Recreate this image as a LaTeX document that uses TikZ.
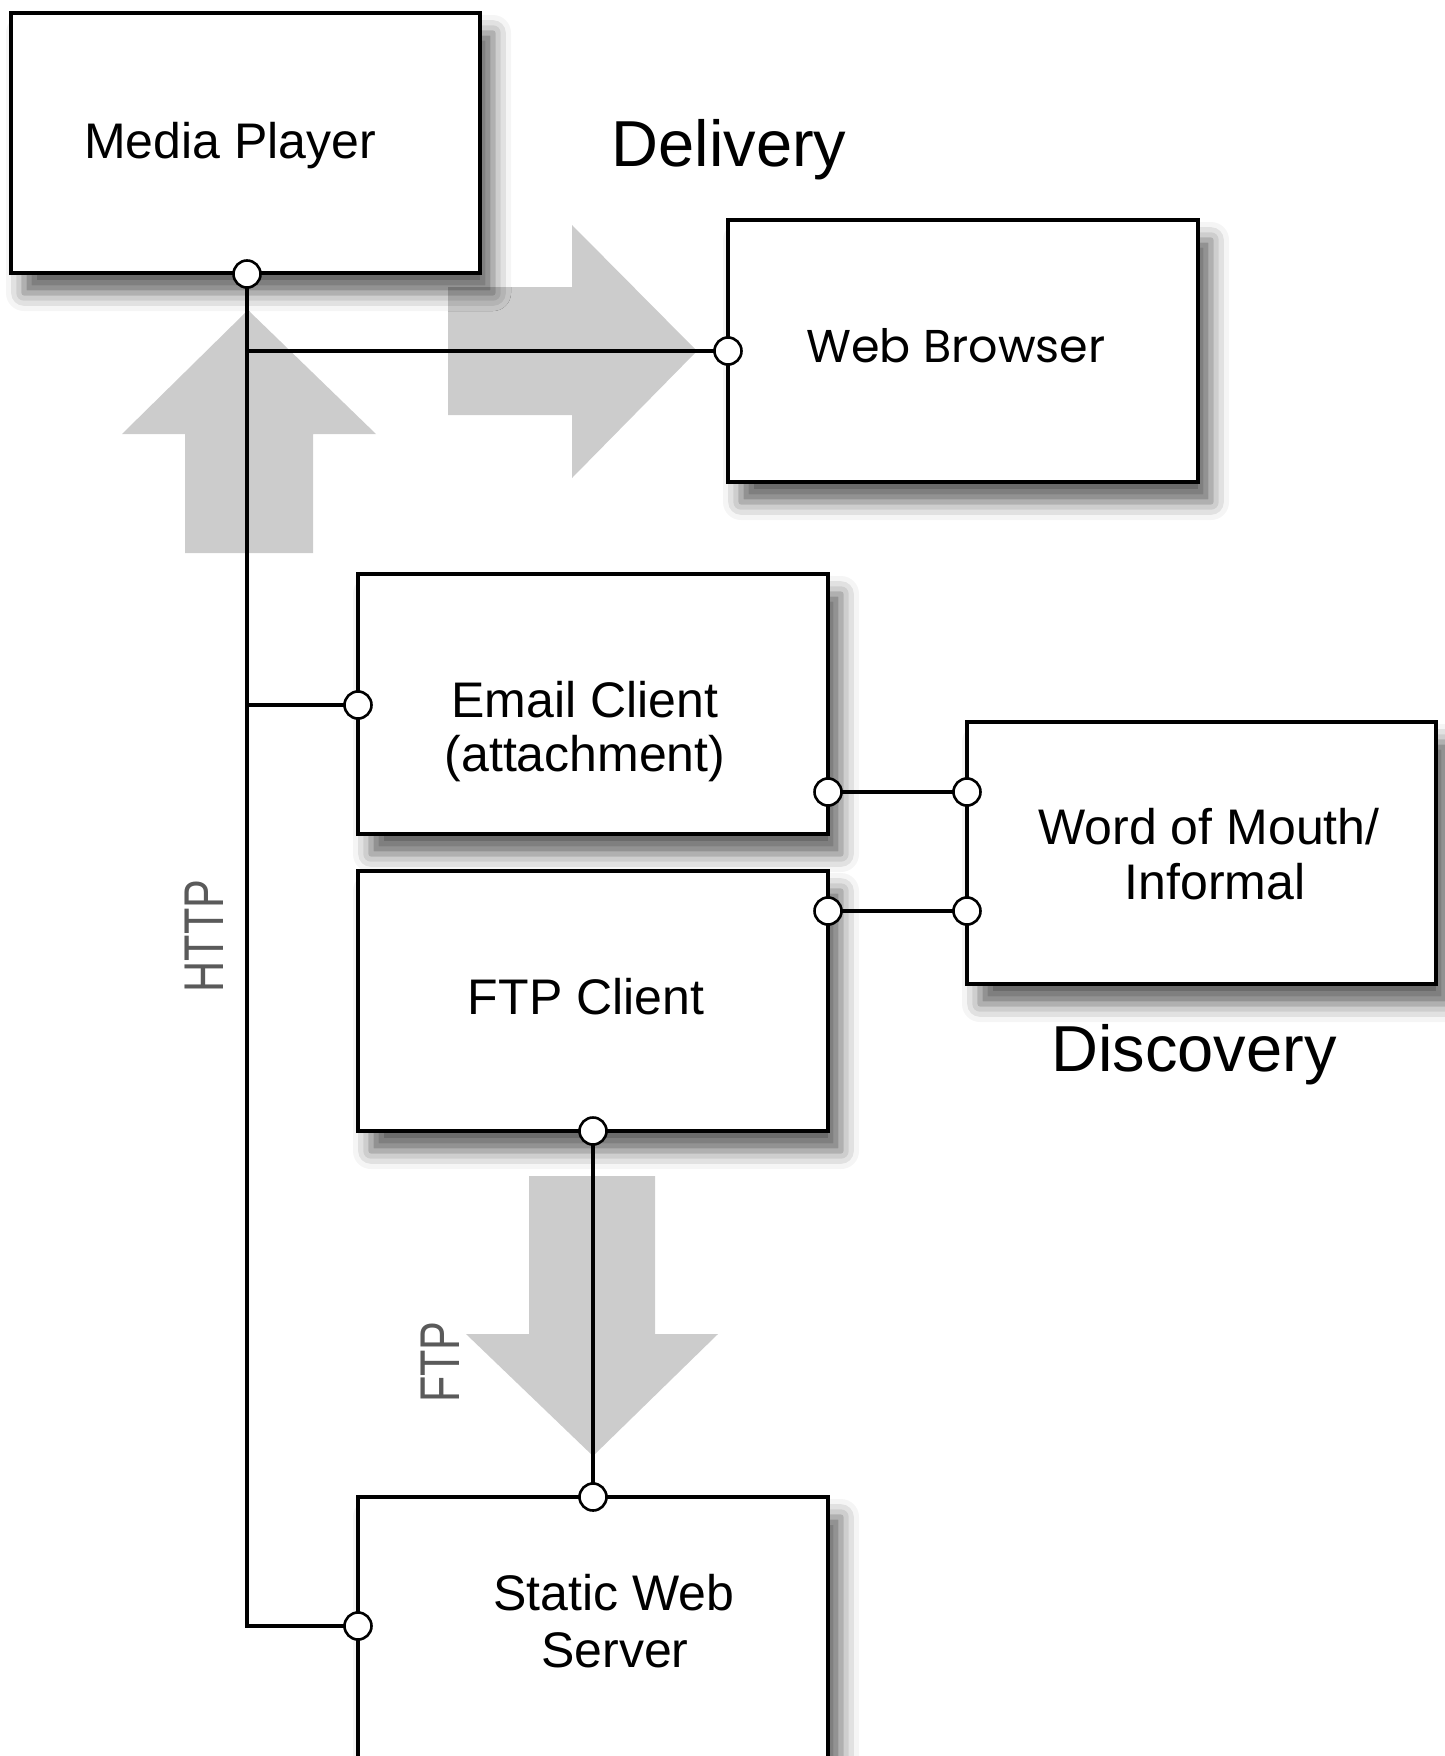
\documentclass[tikz,border=0pt]{standalone}
\usepackage{fontspec}
\setmainfont{Liberation Sans}
\newfontfamily\wbfont{Poppins}
\usetikzlibrary{shadows.blur}
\definecolor{arrowgray}{RGB}{204,204,204}
\definecolor{labelgray}{RGB}{90,90,90}
\tikzset{
  box/.style={draw=black, line width=3.5pt, fill=white, rectangle, inner sep=0pt,
    blur shadow={shadow xshift=13pt, shadow yshift=-20pt, shadow blur radius=18pt, shadow opacity=62}},
  port/.style={circle, draw=black, fill=white, line width=2.6pt, minimum size=27pt, inner sep=0pt},
  linkline/.style={line width=3.2pt},
  bigarrow/.style={fill=arrowgray, draw=none},
  lbl/.style={anchor=base, inner sep=0pt, font=\fontsize{50}{54}\selectfont},
  head/.style={anchor=base, inner sep=0pt, font=\fontsize{65}{70}\selectfont},
  proto/.style={inner sep=0pt, text=labelgray, rotate=90, font=\fontsize{56}{60}\selectfont}
}
\begin{document}
\begin{tikzpicture}[x=1pt, y=-1pt]
\path[use as bounding box] (0,0) rectangle (1445,1756);
\begin{scope}
\clip (0,0) rectangle (1445,1756);
% big grey arrows
\fill[bigarrow] (185,553) -- (185,434) -- (122,434) -- (248,310) -- (376,434) -- (313,434) -- (313,553) -- cycle;
\fill[bigarrow] (448,287) -- (572,287) -- (572,225) -- (697,351) -- (572,478) -- (572,415) -- (448,415) -- cycle;
\fill[bigarrow] (529,1176) -- (655,1176) -- (655,1334) -- (718,1334) -- (593,1456) -- (466,1334) -- (529,1334) -- cycle;
% boxes
\node[box, minimum width=469pt, minimum height=260pt] (mp) at (245.5,143) {};
\node[box, minimum width=470pt, minimum height=262pt] (wb) at (963,351) {};
\node[box, minimum width=470pt, minimum height=260pt] (em) at (593,704) {};
\node[box, minimum width=469pt, minimum height=262pt] (wom) at (1201.5,853) {};
\node[box, minimum width=470pt, minimum height=260pt] (ftp) at (593,1001) {};
\node[box, minimum width=470pt, minimum height=300pt] (sws) at (593,1647) {};
% port positions
\coordinate (pmp) at (247,274);
\coordinate (pwb) at (728,351);
\coordinate (peml) at (358,705);
\coordinate (pemr) at (828,792);
\coordinate (pwom1) at (967,792);
\coordinate (pftpr) at (828,911);
\coordinate (pwom2) at (967,911);
\coordinate (pftpb) at (593,1131);
\coordinate (pswst) at (593,1497);
\coordinate (pswsl) at (358,1626);
\coordinate (j1) at (247,351);
\coordinate (j2) at (247,705);
\coordinate (j3) at (247,1626);
% connectors
\draw[linkline] (pmp) -- (j3) -- (pswsl);
\draw[linkline] (j1) -- (pwb);
\draw[linkline] (j2) -- (peml);
\draw[linkline] (pemr) -- (pwom1);
\draw[linkline] (pftpr) -- (pwom2);
\draw[linkline] (pftpb) -- (pswst);
% port circles on top
\foreach \p in {pmp,pwb,peml,pemr,pwom1,pftpr,pwom2,pftpb,pswst,pswsl}
  \node[port] (c\p) at (\p) {};
% texts
\node[lbl] (tmp) at (230,158) {Media Player};
\node[lbl, font=\wbfont\fontsize{46}{50}\selectfont] (twb) at (956,362) {Web Browser};
\node[lbl] (tem1) at (585,717) {Email Client};
\node[lbl] (tem2) at (585,771) {(attachment)};
\node[lbl] (twom1) at (1209,844) {Word of Mouth/};
\node[lbl] (twom2) at (1215,899) {Informal};
\node[lbl] (tftp) at (586,1014) {FTP Client};
\node[lbl] (tsws1) at (614,1610) {Static Web};
\node[lbl] (tsws2) at (615,1667) {Server};
\node[head] (tdel) at (729,166) {Delivery};
\node[head] (tdis) at (1194,1071) {Discovery};
\node[proto] (thttp) at (204,936) {\scalebox{0.77}[1]{HTTP}};
\node[proto] (tftpl) at (440,1362) {\scalebox{0.77}[1]{FTP}};
\end{scope}
\end{tikzpicture}
\end{document}
